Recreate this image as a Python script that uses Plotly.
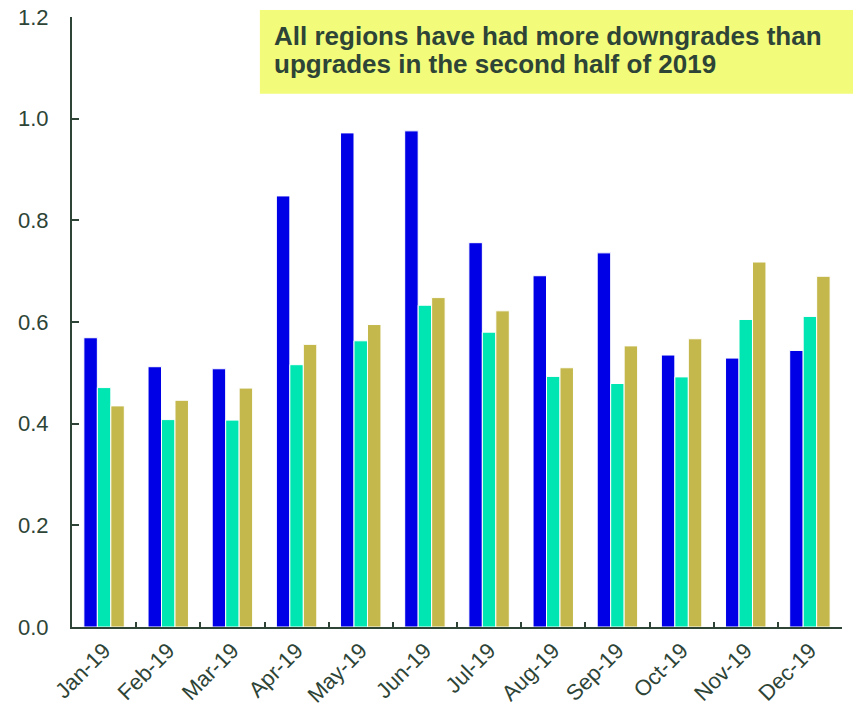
"""
Downgrade-to-upgrade ratio by region, monthly 2019
Bar chart rebuilt with Plotly
"""

import plotly.graph_objects as go

# Data
months = [
    "Jan-19", "Feb-19", "Mar-19", "Apr-19", "May-19", "Jun-19",
    "Jul-19", "Aug-19", "Sep-19", "Oct-19", "Nov-19", "Dec-19",
]
americas = [0.569, 0.512, 0.508, 0.848, 0.972, 0.976, 0.756, 0.691, 0.736, 0.535, 0.529, 0.544]
emea = [0.471, 0.408, 0.407, 0.516, 0.563, 0.633, 0.580, 0.493, 0.479, 0.492, 0.605, 0.611]
apac = [0.435, 0.446, 0.470, 0.556, 0.595, 0.648, 0.622, 0.510, 0.553, 0.567, 0.718, 0.690]

series_names = ["Americas", "EMEA", "APAC"]
series_colors = ["#0000E6", "#00E6B2", "#C4B84C"]

headline = [
    "All regions have had more downgrades than",
    "upgrades in the second half of 2019",
]

TEXT_COLOR = "#2D4436"
FONT = "Liberation Sans, Arial, sans-serif"

fig = go.Figure()

for name, values, color in zip(series_names, [americas, emea, apac], series_colors):
    fig.add_trace(
        go.Bar(
            x=months,
            y=values,
            name=name,
            marker=dict(color=color, line=dict(color="white", width=1)),
        )
    )

# Highlight box (runs off the right edge like the original)
fig.add_shape(
    type="rect",
    xref="paper",
    yref="paper",
    x0=0.244,
    x1=1.06,
    y0=0.874,
    y1=1.0115,
    fillcolor="#F2FB7A",
    line=dict(width=0),
    layer="above",
)

# one annotation per line to get the tight line spacing
for line_text, y_pos in zip(headline, [0.9693, 0.9225]):
    fig.add_annotation(
        xref="paper",
        yref="paper",
        x=0.2597,
        y=y_pos,
        xanchor="left",
        yanchor="middle",
        align="left",
        showarrow=False,
        text="<b>" + line_text + "</b>",
        font=dict(family=FONT, size=26, color=TEXT_COLOR),
    )

# page body has an 8px default margin, so margins are offset by 8
fig.update_layout(
    width=861,
    height=710,
    margin=dict(l=64, r=27, t=9, b=91),
    paper_bgcolor="white",
    plot_bgcolor="white",
    barmode="group",
    bargap=0.37,
    bargroupgap=0,
    showlegend=False,
    font=dict(family=FONT, color=TEXT_COLOR),
)

fig.update_xaxes(
    automargin=False,
    showline=True,
    linecolor=TEXT_COLOR,
    linewidth=2,
    ticks="inside",
    tickson="boundaries",
    ticklen=5,
    tickwidth=2,
    tickcolor=TEXT_COLOR,
    tickangle=-45,
    tickfont=dict(family=FONT, size=22, color=TEXT_COLOR),
    ticklabeloverflow="allow",
    showgrid=False,
)

fig.update_yaxes(
    automargin=False,
    range=[0, 1.2],
    dtick=0.2,
    tickformat=".1f",
    showline=True,
    linecolor=TEXT_COLOR,
    linewidth=2,
    ticks="inside",
    ticklen=7,
    tickwidth=2,
    tickcolor=TEXT_COLOR,
    tickfont=dict(family=FONT, size=22, color=TEXT_COLOR),
    ticklabelstandoff=17,
    ticklabeloverflow="allow",
    showgrid=False,
    zeroline=False,
)

fig.write_html("out.html")
